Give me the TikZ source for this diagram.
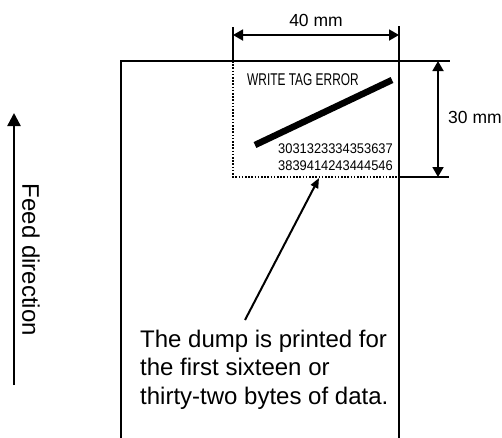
\documentclass[tikz,border=0pt]{standalone}
\usepackage{fontspec}
\setmainfont{Liberation Sans}
\usetikzlibrary{arrows.meta}
\tikzset{
  paper/.style={line width=2pt, line cap=rect},
  dimline/.style={line width=1.8pt, {Triangle[length=10pt,width=11pt]}-{Triangle[length=10pt,width=11pt]}},
  extline/.style={line width=1.8pt},
  dotline/.style={line width=1.2pt, dash pattern=on 1.6pt off 1.6pt},
  lbl/.style={inner sep=0pt, font=\fontsize{17.5}{20}\selectfont},
  callout/.style={inner sep=0pt, align=left, font=\fontsize{24}{28.5}\selectfont},
  pointer/.style={line width=2pt, -{Triangle[length=10pt,width=8pt]}},
  feed/.style={line width=2.4pt, -{Triangle[length=13pt,width=13pt]}},
}
\begin{document}
\begin{tikzpicture}[x=1pt,y=-1pt]
\useasboundingbox (0,0) rectangle (502,437);
% key points
\coordinate (pTL) at (121,61);
\coordinate (pBL) at (121,437);
\coordinate (pTR) at (399,61);
\coordinate (pBR) at (399,437);
\coordinate (eTop) at (449,61);
\coordinate (eBotL) at (399,177);
\coordinate (eBot) at (449,177);
\coordinate (lExtT) at (233,27);
\coordinate (rExtT) at (399,27);
\coordinate (boxBL) at (233,177);
\coordinate (dA) at (233,35);
\coordinate (dB) at (399,35);
\coordinate (vA) at (438,61);
\coordinate (vB) at (438,177);
\coordinate (barA) at (255,145);
\coordinate (barB) at (392,80);
\coordinate (ptip) at (319,178);
\coordinate (pstart) at (245,320);
\coordinate (fA) at (14,385);
\coordinate (fB) at (14,113);
% paper
\draw[paper] (pBL) -- (pTL) -- (eTop);
\draw[paper] (rExtT) -- (pBR);
\draw[extline] (eBotL) -- (eBot);
\draw[extline] (lExtT) -- (pTL -| lExtT);
% dotted print area
\draw[dotline] (pTL -| boxBL) -- (boxBL) -- (eBotL);
% dimensions
\draw[dimline] (dA) -- (dB);
\node[lbl] (w40) at (316,20) {40 mm};
\draw[dimline] (vA) -- (vB);
\node[lbl, anchor=west] (h30) at (448,117) {30 mm};
% contents
\node[inner sep=0pt, anchor=base west, font=\fontsize{17}{20}\selectfont] (wte) at (247,85) {\scalebox{0.7}[1]{WRITE TAG ERROR}};
\draw[line width=6.5pt] (barA) -- (barB);
\node[inner sep=0pt, anchor=base east, font=\fontsize{14}{17}\selectfont] (n1) at (393,153) {\scalebox{0.92}[1]{3031323334353637}};
\node[inner sep=0pt, anchor=base east, font=\fontsize{14}{17}\selectfont] (n2) at (393,170) {\scalebox{0.92}[1]{3839414243444546}};
% callout
\node[callout, anchor=north west] (note) at (140,329.5) {The dump is printed for\\the first sixteen or\\thirty-two bytes of data.};
\draw[pointer] (pstart) -- (ptip);
% feed direction
\draw[feed] (fA) -- (fB);
\node[inner sep=0pt, rotate=-90, anchor=center, font=\fontsize{24}{28}\selectfont] (feedlbl) at (31,260) {Feed direction};
\end{tikzpicture}
\end{document}
